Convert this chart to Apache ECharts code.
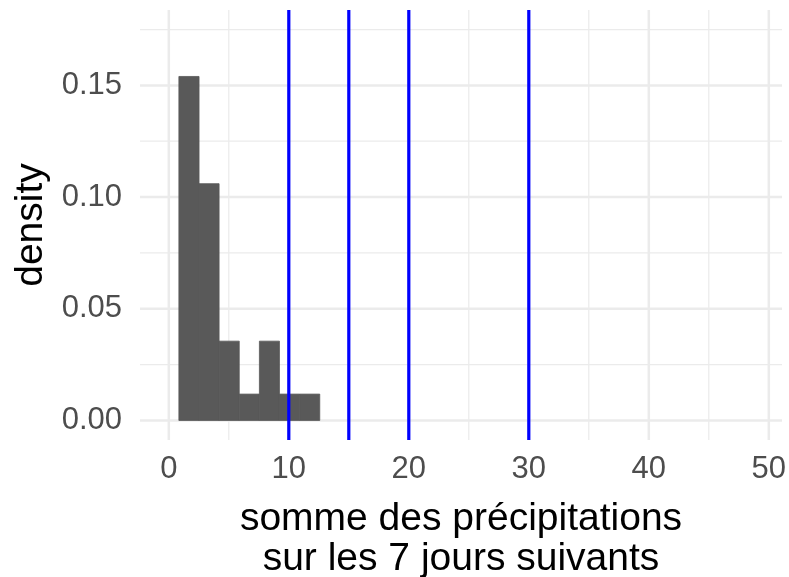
<!DOCTYPE html>
<html>
<head>
<meta charset="utf-8">
<script src="https://cdn.jsdelivr.net/npm/echarts@6/dist/echarts.min.js"></script>
<style>html,body{margin:0;padding:0;background:#fff;}#c{width:789px;height:577px;}</style>
</head>
<body>
<div id="c"></div>
<script>
// Histogram bins (left edges ... last right edge) and densities
const binEdges = [0.84, 2.52, 4.19, 5.87, 7.55, 9.22, 10.90, 12.58];
const density = [0.154, 0.106, 0.0355, 0.0118, 0.0355, 0.0118, 0.0118];
// Vertical reference lines
const vlines = [10, 15, 20, 30];
// Ticks and grid
const xTicks = [0, 10, 20, 30, 40, 50];
const xMinor = [5, 15, 25, 35, 45];
const yTicks = [0, 0.05, 0.10, 0.15];
const yMinor = [0.025, 0.075, 0.125, 0.175];

const FONT = '"Liberation Sans", Arial, sans-serif';
const barData = density.map((d, i) => [binEdges[i], binEdges[i + 1], d]);

function vLineSeries(values, color, width, z) {
  return {
    type: 'custom', z: z, silent: true,
    data: values.map(v => [v, 0]),
    encode: { x: 0, y: 1 },
    renderItem: function (params, api) {
      const cs = params.coordSys;
      const x = api.coord([api.value(0), 0])[0];
      return { type: 'line', shape: { x1: x, y1: cs.y, x2: x, y2: cs.y + cs.height },
        style: { stroke: color, lineWidth: width } };
    }
  };
}
function hLineSeries(values, color, width, z) {
  return {
    type: 'custom', z: z, silent: true,
    data: values.map(v => [0, v]),
    encode: { x: 0, y: 1 },
    renderItem: function (params, api) {
      const cs = params.coordSys;
      const y = api.coord([0, api.value(1)])[1];
      return { type: 'line', shape: { x1: cs.x, y1: y, x2: cs.x + cs.width, y2: y },
        style: { stroke: color, lineWidth: width } };
    }
  };
}

const chart = echarts.init(document.getElementById('c'), null, { renderer: 'canvas' });
chart.setOption({
  animation: false,
  backgroundColor: '#ffffff',
  grid: { left: 140, right: 7, top: 10, bottom: 137, containLabel: false, outerBoundsMode: 'none' },
  xAxis: {
    type: 'value', min: -2.4, max: 51.1,
    name: 'somme des précipitations\nsur les 7 jours suivants',
    nameLocation: 'middle', nameGap: 59,
    nameTextStyle: { color: '#000', fontSize: 39, fontFamily: FONT, lineHeight: 40 },
    axisLine: { show: false }, axisTick: { show: false }, splitLine: { show: false },
    axisLabel: { customValues: xTicks, color: '#4D4D4D', fontSize: 31, fontFamily: FONT, margin: 14 }
  },
  yAxis: {
    type: 'value', min: -0.00875, max: 0.18375,
    name: 'density', nameLocation: 'middle', nameGap: 88, nameRotate: 90,
    nameTextStyle: { color: '#000', fontSize: 39, fontFamily: FONT },
    axisLine: { show: false }, axisTick: { show: false }, splitLine: { show: false },
    axisLabel: { customValues: yTicks, color: '#4D4D4D', fontSize: 31, fontFamily: FONT, margin: 18,
      formatter: v => Number(v).toFixed(2) }
  },
  series: [
    vLineSeries(xMinor, '#EBEBEB', 1.25, 1),
    hLineSeries(yMinor, '#EBEBEB', 1.25, 1),
    vLineSeries(xTicks, '#EBEBEB', 2.5, 1),
    hLineSeries(yTicks, '#EBEBEB', 2.5, 1),
    {
      type: 'custom', z: 2, silent: true,
      data: barData,
      encode: { x: [0, 1], y: 2 },
      renderItem: function (params, api) {
        const p0 = api.coord([api.value(0), api.value(2)]);
        const p1 = api.coord([api.value(1), 0]);
        return { type: 'rect', shape: { x: p0[0], y: p0[1], width: p1[0] - p0[0], height: p1[1] - p0[1] },
          style: { fill: '#595959', stroke: '#595959', lineWidth: 0.8 } };
      }
    },
    vLineSeries(vlines, '#0000FF', 3.2, 3)
  ]
});
</script>
</body>
</html>
